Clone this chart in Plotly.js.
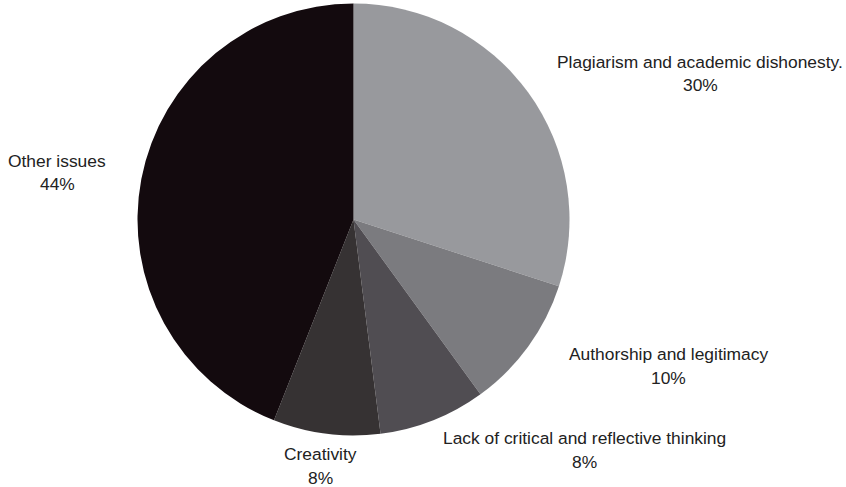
<!DOCTYPE html>
<html><head><meta charset="utf-8">
<script src="https://cdn.plot.ly/plotly-3.0.1.min.js"></script>
<style>html,body{margin:0;padding:0;background:#fff}#c{width:846px;height:487px}</style>
</head><body><div id="c"></div>
<script>
const categories = ["Plagiarism and academic dishonesty.", "Authorship and legitimacy", "Lack of critical and reflective thinking", "Creativity", "Other issues"];
const values = [30, 10, 8, 8, 44];
const colors = ["#98999d", "#7b7b7f", "#504d52", "#363233", "#130a0e"];
// label anchor positions in pixels (center x, first-line y)
const labelPos = [[700, 62], [668, 354], [584, 438], [320, 454], [57, 161]];

const W = 846, H = 487;
const total = values.reduce((a, b) => a + b, 0);
const annotations = [];
categories.forEach((c, i) => {
  const [x, y] = labelPos[i];
  const pct = Math.round(values[i] / total * 100) + "%";
  [[c, y], [pct, y + 23.5]].forEach(([t, yy]) => {
    annotations.push({
      text: t, x: x / W, y: 1 - yy / H, xref: "paper", yref: "paper",
      xanchor: "center", yanchor: "middle", showarrow: false, borderpad: 0,
      font: {family: "Liberation Sans, Arial, sans-serif", size: 17.4, color: "#222"}
    });
  });
});

const cx = 353.5, cy = 219.5, r = 216;
Plotly.newPlot("c", [{
  type: "pie", labels: categories, values: values, sort: false,
  direction: "clockwise", rotation: 0,
  marker: {colors: colors, line: {width: 0}},
  textinfo: "none", hoverinfo: "label+percent",
  domain: {x: [(cx - r) / W, (cx + r) / W], y: [1 - (cy + r) / H, 1 - (cy - r) / H]}
}], {
  width: W, height: H, margin: {l: 0, r: 0, t: 0, b: 0},
  paper_bgcolor: "#fff", plot_bgcolor: "#fff", showlegend: false,
  annotations: annotations
}, {displayModeBar: false, staticPlot: true});
</script></body></html>
